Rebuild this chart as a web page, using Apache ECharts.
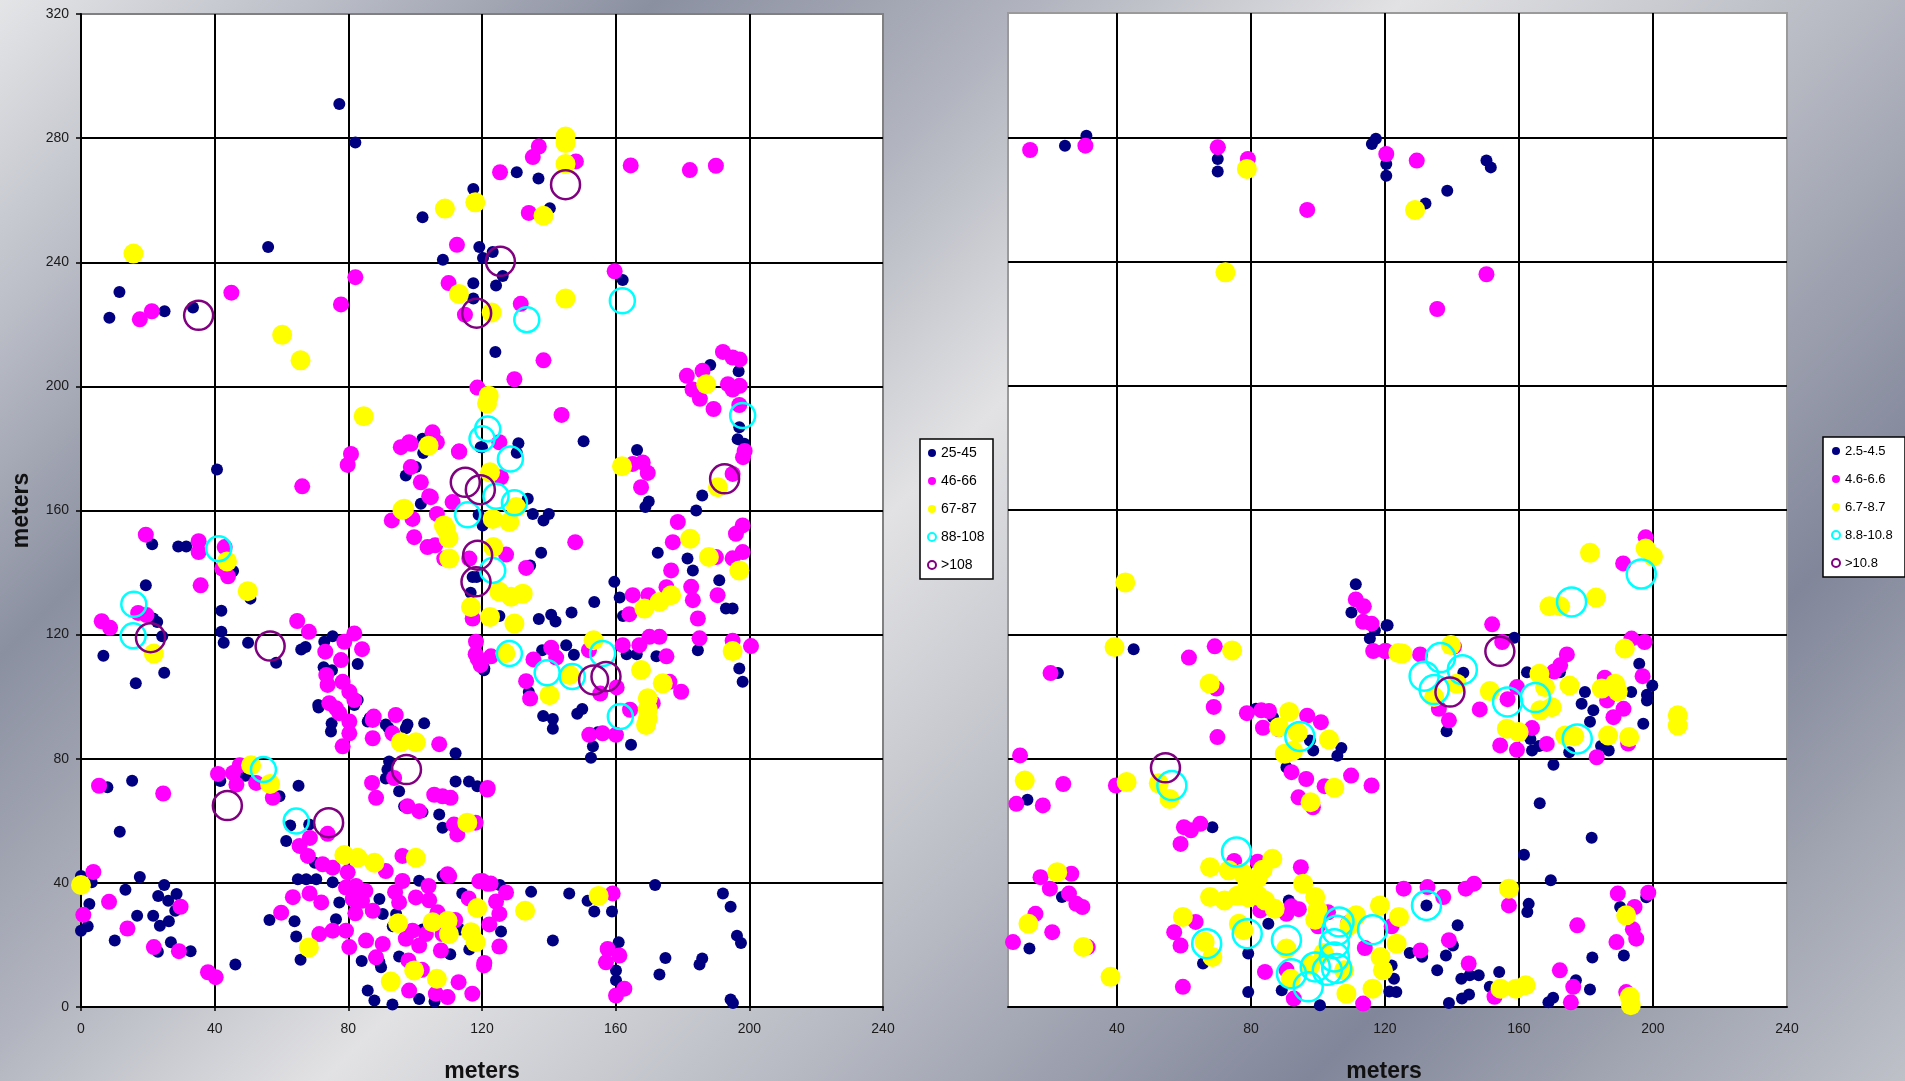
<!DOCTYPE html>
<html>
<head>
<meta charset="utf-8">
<script src="https://cdn.jsdelivr.net/npm/echarts@6/dist/echarts.min.js"></script>
<style>
  html, body { margin: 0; padding: 0; }
  #chart {
    width: 1905px; height: 1081px;
    background: linear-gradient(135deg, #e4e5e7 0%, #babdc6 11%, #8b90a1 22%, #b2b5bf 35%, #e2e2e4 47%, #b5b8c1 63%, #81869a 80%, #a2a6b2 90%, #bec1c8 100%);
  }
</style>
</head>
<body>
<div id="chart"></div>
<script>
// Axis ticks (metres)
const xTicks = [0, 40, 80, 120, 160, 200, 240];
const xTicksRight = [40, 80, 120, 160, 200, 240];
const yTicks = [0, 40, 80, 120, 160, 200, 240, 280, 320];

// Legend classes
const leftClasses = ['25-45', '46-66', '67-87', '88-108', '>108'];
const rightClasses = ['2.5-4.5', '4.6-6.6', '6.7-8.7', '8.8-10.8', '>10.8'];

// ---------- Left map: stems positioned in metres [x, y] ----------
const leftClass1 = [
  [77.3,291],[82.1,278.6],[117.4,263.6],[102.2,254.5],[119.2,244.9],[123.2,243.3],[120.3,241.4],[108.3,240.8],
  [117.4,233.2],[124.2,232.5],[126.2,235.6],[117.4,228.3],[124,211.1],[56,244.9],[11.5,230.4],[8.5,222.1],
  [25,224.2],[33.5,225.4],[130.4,269],[136.9,267],[140.3,257.4],[162.1,234.3],[188.3,206.9],[196.8,204.9],
  [150.4,182.3],[120,180.4],[130.9,181.7],[130.4,178.6],[133.7,163.8],[119,158.6],[120.2,155.2],[135.2,158.9],
  [138.4,156.8],[140,158.9],[117.2,138.6],[137.7,146.4],[134.4,142.3],[125.2,126],[137,125],[140.7,126.4],
  [142,124.2],[146.8,127.1],[153.6,130.5],[159.6,137],[166.4,179.5],[169.9,162.9],[168.9,161.1],[185.9,164.8],
  [184.1,160],[197,186.8],[196.5,183],[198.5,181.5],[172.6,146.4],[181.5,144.5],[183.1,140.7],[191,137.5],
  [195,128.4],[193,128.4],[161.2,132],[162.2,126],[184.6,115],[197,109.1],[198,104.8],[120.7,109.1],
  [134,101.5],[138,115],[145.2,116.6],[147.5,113.5],[163.3,113.7],[166.3,113.7],[172.2,113],[150,96],[148.5,94.5],
  [40.7,173.2],[102.2,183.1],[102.4,178.5],[97.2,171.3],[100.2,174],[101.7,162.2],[119.6,180.4],[118.4,138.6],
  [116.6,133.5],[120.6,108.5],[21.3,149.1],[29.1,148.4],[31.5,148.4],[45.5,140.5],[50.7,131.6],[19.4,135.9],
  [21.6,125.2],[22.8,124.1],[24.3,119.5],[6.7,113.2],[16.4,104.3],[24.9,107.7],[42,127.7],[42,120.9],
  [42.7,117.4],[50,117.4],[58.4,110.9],[65.9,115.2],[67.2,116],[72.8,117.7],[75.3,119.5],[82.8,110.5],
  [72.6,109.5],[75.1,108.5],[82.8,98.9],[71,97.3],[86.4,93.1],[91.2,91],[97.7,91],[102.7,91.4],
  [71.1,96.5],[81.8,97.3],[75,91.4],[74.8,88.8],[85.8,92],[92,90],[97.2,89.8],[112.1,81.8],[92.2,79.1],
  [91.7,76.5],[91.2,73.6],[95.2,69.5],[96.7,64.7],[102.2,62.8],[107.2,62],[108.2,57.8],[112.1,72.7],
  [116.1,72.7],[118.6,71.1],[59.4,67.9],[49.2,74.5],[41.7,72.8],[65.1,71.3],[62.6,58.5],[61.4,53.5],
  [68.3,58.8],[70,46.5],[64.9,41.2],[67.4,41.2],[70.4,41.2],[75.3,40.2],[77.3,33.7],[76.3,28.3],[89.3,34.8],
  [90.3,30],[94.3,30],[101.2,40.7],[102.2,25],[56.4,28],[63.9,27.6],[64.4,22.7],[65.7,15.2],[93.3,26],
  [89.3,14.5],[87.8,16],[95.2,16.3],[89.8,12.8],[85.8,5.3],[87.8,2.1],[93.2,0.8],[101.2,2.6],[114.1,36.6],
  [108.2,42.2],[116.2,18.5],[0,42.2],[3.2,40.2],[0,24.6],[2,26],[2.5,33.2],[7.9,70.8],[15.3,72.9],
  [11.6,56.5],[17.6,41.9],[13.3,37.8],[24.9,39.3],[23.1,35.8],[26.1,34.2],[28.6,36.4],[28.2,31],[16.8,29.4],
  [21.6,29.4],[23.6,26.2],[26.3,27.6],[10.1,21.4],[23,17.8],[26.9,20.9],[32.8,18],[46.2,13.7],[84,14.8],
  [82,31],[80,43.5],[152.6,80.3],[153.2,84],[154.6,88.5],[164.6,84.5],[141.2,89.7],[138.3,93.8],[141.2,92.8],
  [125.3,39.3],[134.7,37.1],[146.1,36.6],[125.7,24.3],[151.6,34.2],[153.6,30.8],[158.9,30.8],[171.8,39.3],
  [192.1,36.6],[194.4,32.3],[196.3,23],[197.5,20.6],[141.2,21.4],[160.9,20.9],[160.1,11.8],[160.1,8.6],
  [174.9,15.8],[173.1,10.5],[185.9,15.6],[185.1,13.7],[194.4,2.4],[195.1,1.3],[105.8,1.8],[110.5,17],
  [113.5,25],[118,20]
];
const leftClass2 = [
  [112.5,245.6],[110,233.3],[114.9,223.1],[118.6,199.6],[82.1,235.2],[77.8,226.4],[45,230.2],[17.6,221.6],
  [21.2,224.2],[137,277.3],[135.2,273.9],[148.1,272.5],[125.4,269],[134,255.9],[164.5,271.2],[182.2,269.7],
  [190,271.1],[131.6,226.6],[159.7,237.1],[138.4,208.4],[129.7,202.3],[192.1,211.1],[195,209.3],[197.1,208.7],
  [181.3,203.4],[193.6,200.7],[197.1,200.2],[183,199],[186,205],
  [143.8,190.8],[113.2,179],[125.2,182],[105.2,185.2],[98.2,182],[106.5,182],[125.7,170.7],[111.2,162.7],
  [104.2,164.6],[106.5,158.9],[99.2,157.3],[99.7,151.4],[106,148.8],[116.2,144.5],[127.2,145.8],[147.9,149.8],
  [133.2,141.5],[117.2,125.2],[165.1,175],[168.1,175.5],[169.6,172.1],[167.6,167.5],[195,171.8],[198.1,177.2],
  [198.6,179.2],[197,194],[195,199],[189.3,192.7],[185.2,196],[178.6,156.3],[177.1,149.8],[190,145],
  [176.6,140.7],[198,155.2],[196,152.5],[198,146.6],[195,144.6],[190.5,132.7],[182.6,135.4],[183.1,131.1],
  [184.6,125.2],[165.1,132.7],[169.8,132.7],[175.2,135.3],[164.1,126.6],[185.1,118.8],[200.5,116.3],[195,118],
  [118.2,117.7],[118.7,112.3],[122.7,113],[140.7,115.8],[142.2,112.6],[134.4,99.4],[133.2,105],[162.1,116.6],
  [167.1,116.6],[170.1,119.3],[173.1,119.3],[175.2,113],[179.6,101.6],[176.1,104.8],[155.4,101],[160.3,103],
  [171.1,97.9],[164.3,95.8],[135.4,112],[152,115],
  [66.2,167.8],[80.8,178.2],[79.8,174.7],[95.7,180.4],[98.7,181.5],[98.7,174],[101.7,169.1],
  [104.7,164.3],[113.1,179],[93,156.8],[103.7,148.2],[108.7,144.5],[19.4,152.2],[35.2,150.1],[35.2,146.6],
  [43,148.2],[42.3,141.3],[44,138.8],[35.8,135.9],[17.1,127],[19.6,126.3],[6.2,124.3],[8.7,122.2],[64.7,124.4],
  [68.2,120.9],[73.1,114.5],[77.8,111.8],[78.8,117.7],[81.8,120.4],[84.1,115.3],[73.4,107],[73.8,103.8],
  [78.3,104.8],[80.3,101.6],[81.8,98.9],[74.3,97.9],[76.3,96.3],[87.6,93.6],[94.2,94.1],[118.1,113.7],[119.6,110.2],
  [77.3,94.7],[80.3,92],[80.3,88.2],[78.3,84],[87.3,92.5],[93.2,88.2],[87.3,86.6],[107.2,84.7],[93.7,73.8],
  [87.1,72.2],[88.3,67.4],[97.7,64.7],[101.2,63.1],[105.7,68.4],[108.2,67.9],[110.6,67.4],[111.6,58.8],
  [112.6,55.6],[118.1,59.4],[121.6,70.1],[57.4,67.4],[41,75.1],[45.5,75.4],[46.5,71.7],[47.5,77.9],[52.4,72.2],
  [73.8,55.8],[65.4,51.9],[67.9,48.7],[68.5,54.5],[72.3,46],[75.3,44.9],[96.2,48.7],[96.2,40.6],[91.2,43.8],
  [68.4,36.6],[71.9,33.7],[63.4,35.4],[59.9,30.4],[79.3,38.5],[82.3,39],[85.1,37.4],[81.3,34.8],[84.1,34.2],
  [87.3,31],[82.1,30.2],[79.8,43.4],[95.2,33.7],[100.2,35.3],[104.2,34.4],[71.3,23.5],[75.3,24.6],[79.3,24.6],
  [80.3,19.3],[85.3,21.4],[90.3,20.3],[88.3,16],[97.2,22],[99.2,24.6],[101.2,19.8],[103.2,23.5],[107.7,18.2],
  [106.7,30.5],[108.2,23.5],[98.2,5.3],[106.2,4.3],[109.7,3.2],[117.1,4.3],[120.1,40.6],[122.6,39.8],
  [109.7,42.8],[120.6,13.4],[3.7,43.5],[0.7,29.7],[5.4,71.3],[24.6,68.8],[8.4,33.9],[29.8,32.3],[13.9,25.3],
  [21.8,19.3],[29.3,18],[38,11.2],[40.3,9.6],[98,15],[102,12],[113,8],[112,28],[116,35],[104,39],[94,37],
  [152.1,87.7],[156.1,88.2],[160.1,87.7],[121.7,70.6],[110.2,42.2],[119.2,40.5],[121.7,39.7],[127.2,36.9],
  [124.2,34],[125.2,30],[122.2,26.6],[125.2,19.5],[120.7,14.2],[159.1,36.6],[157.6,18.7],[161.1,16.6],
  [157.1,14.4],[162.6,5.9],[160.1,3.7]
];
const leftClass3 = [
  [108.9,257.3],[118,259.3],[113.1,229.8],[122.9,223.8],[122,197],[15.7,242.8],[60.2,216.6],[65.7,208.4],
  [145,280.5],[145,278.4],[145,271.7],[138.4,255],[145,228.3],[187.1,200.7],
  [121.5,194.5],[104,180.9],[122.4,172.3],[130.2,161.1],[96.7,160.6],[109.2,154.1],[110,151.1],[110.2,144.5],
  [123.2,157.3],[128.2,156.3],[123.4,148.2],[125.2,133.8],[128.7,132.2],[132.2,133.2],[116.7,128.9],[122.4,125.7],
  [129.7,123.6],[161.9,174.3],[190.6,167.5],[182.3,150.9],[187.9,145],[197,140.7],[168.6,128.4],[173.1,130.5],
  [176.6,132.7],[195,114.7],[127,114],[140.2,100.5],[146.2,107],[153.4,118.2],[167.6,108.6],[174.1,104.3],
  [169.6,99.5],[169.6,93],
  [84.6,190.4],[96.2,160.2],[108.6,155.2],[43.7,143.6],[49.9,134],[21.8,113.9],
  [95.7,85.3],[100.2,85.3],[115.6,59.4],[50.9,77.9],[56.6,71.9],[78.8,49],[82.8,48.1],[87.8,46.5],[100.2,48.1],
  [68.2,19.2],[94.9,27],[105.2,27.3],[109.7,27.8],[110.1,23.5],[99.7,11.8],[106.5,9.1],[92.7,8.2],[118.6,31.9],
  [116.7,24.1],[118.1,20.9],[0,39.3],[132.9,31],[154.9,35.8],[169.1,90.9],[169.6,96]
];
const leftClass4 = [
  [133.4,221.5],[162,227.6],[121.7,186.3],[120,183.1],[128.5,176.6],[124.2,164.6],[129.7,162.5],[115.7,158.6],
  [123.2,140.7],[198,190.6],[128.2,113.9],[139.5,107.7],[147,106.5],[156.1,113.9],[161.4,93.6],[41.2,147.7],
  [15.8,129.8],[15.6,119.6],[54.6,76.5],[64.4,59.9]
];
const leftClass5 = [
  [35.2,222.9],[118.4,223.6],[125.5,240.3],[145,265],[115,169.1],[119.5,166.7],[118.7,145.6],[118.2,137],
  [192.6,170.2],[20.8,119],[56.6,116.3],[153.4,105.4],[157.1,106.5],[43.8,64.9],[74.1,59.4],[97.4,76.5]
];

// ---------- Right map: [x, y] in metres ----------
const rightClass1 = [
  [24.5,277.3],[30.9,280.5],[70.1,273],[70.1,269],[70.6,276.8],[117.3,279.5],[116.1,277.8],[120.4,271.4],
  [120.4,267.6],[150.3,272.5],[151.6,270.3],[138.6,262.8],[132.1,258.7],
  [45,115.2],[22.4,107.5],[111.3,136.1],[110,127],[120.5,122.8],[117,121.3],[115.5,118.6],[81.5,96],[86.6,93.3],
  [97.6,85.8],[98.6,82.6],[107,83.4],[105.8,80.9],[90.6,77.2],
  [120.8,122.9],[158.6,118.9],[143.4,107.6],[138.4,88.8],[163.9,82.6],[163.4,86.3],[170.3,78],[186.8,82.6],
  [195.9,110.5],[199.8,103.5],[198.2,100.5],[198.2,98.7],[197.1,91.2],[193.5,101.4],[179.7,101.4],[178.7,97.6],
  [182.2,95.5],[181.2,91.8],[162.4,107.8],[172.2,107.8],[166,84],[175,82],[184.5,84],
  [13.3,66.7],[68.5,57.9],[166.2,65.6],[181.7,54.5],[161.5,49],[169.5,40.8],[23.6,35.4],[13.9,18.8],[65.7,14],
  [79.2,17.2],[79.2,4.8],[89.2,5.4],[100.6,0.6],[91.3,34.3],[85.2,26.8],[122,13.4],[122.7,9.1],[123.4,4.8],
  [121.3,5],[127.4,17.4],[131.1,16.2],[135.6,11.8],[138.2,16.6],[140.3,19.8],[141.7,26.3],[139.1,1.3],
  [142.8,9.1],[145.3,10.2],[148,10.2],[143,2.7],[145.1,4],[154.1,11.3],[151.3,6.5],[162.9,33.2],[162.5,30.6],
  [177,8.6],[181.2,5.6],[168.8,1.5],[170.2,3],[181.9,15.9],[198,35.3],[190.2,32.2],[191.3,16.6],[102,71],
  [132.4,32.7]
];
const rightClass2 = [
  [14.1,275.9],[30.6,277.3],[70.1,276.8],[79.1,273],[96.8,256.6],[120.4,274.6],[129.5,272.5],[150.3,235.9],
  [135.6,224.7],
  [20.2,107.5],[61.5,112.5],[69.2,116.1],[69.7,102.5],[68.9,96.6],[70,86.9],[11.1,81],[111.3,131.2],[113.7,129],
  [113.5,124],[116,123.4],[116.5,114.6],[120,114.6],[78.8,94.6],[83.1,95.5],[85.4,95.3],[83.6,89.9],[96.8,93.8],
  [100.9,91.7],[92.1,75.6],[88.3,89.5],
  [130.5,113.5],[140.6,116],[152,123.2],[155,117.5],[136.1,96],[139.1,92.3],[148.3,95.8],[156.6,99.1],
  [159.4,103],[154.4,84.2],[159.4,82.8],[163.9,89.8],[168.3,84.7],[174.3,113.5],[172.3,110],[170.5,108],
  [183.2,80.4],[192.6,84.8],[186.3,98.7],[191.2,96],[188.2,93.3],[185.6,106],[196.9,106.5],[193.6,118.6],
  [197.5,117.5],[197.8,151.2],[191.1,142.8],[120.3,114.6],
  [24,71.8],[39.7,71.3],[10,65.4],[17.9,64.9],[96.5,73.4],[102,71.1],[109.9,74.5],[116,71.3],[94.2,67.5],
  [98.5,64.3],[60,57.9],[62.1,56.9],[64.9,59],[59,52.5],[75,47],[82,46.8],[94.9,45],[26.4,42.9],[17.2,41.8],
  [20,38.1],[25.7,36.5],[27.9,33.2],[29.7,32.2],[15.7,30],[20.7,24.1],[9,20.9],[31.3,19.3],[59.7,6.5],
  [63.5,27.4],[57.1,24.1],[59,19.8],[84.2,11.3],[90.6,12],[92.8,2.7],[90.6,30],[92.1,32.4],[94.3,31.5],
  [82.8,31.1],[113.5,1.1],[125.6,38.1],[132.7,38.6],[137.4,35.4],[130.6,18.2],[139.1,21.5],[144.1,38.1],
  [146.6,39.7],[145,14],[152.7,3.3],[157,32.7],[172.2,11.8],[176.2,6.5],[175.5,1.5],[177.4,26.3],[189.5,36.5],
  [198.6,36.8],[194.5,32.2],[189.1,20.9],[195,22],[194,25],[192,4.8],[100,26],[103,30.5],[109,27],[122,26],[114,19]
];
const rightClass3 = [
  [78.8,269.8],[129,256.6],[72.4,236.5],
  [42.5,136.7],[39.3,115.9],[74.4,114.8],[67.7,104.1],[91.4,95],[88.4,90.1],[94,88.3],[90.1,81.5],[92.6,82.5],
  [103.3,86.1],[124,114],
  [125.2,113.8],[139.7,116.5],[141.4,104.1],[134.7,99.8],[181.2,146.2],[197.8,147.6],[200,145],[169.1,129],
  [172.3,129],[183,131.8],[151.3,101.7],[156.4,89.6],[159.9,88.5],[166.1,107.3],[167.8,103],[166.3,95.5],
  [169.8,96.5],[175.1,103.5],[173.8,87.4],[176.5,87.2],[186.6,87.4],[192.9,86.9],[184.7,102.5],[188.7,104.1],
  [189.5,101.6],[191.6,115.4],[207.4,93.9],[207.4,90.6],
  [12.5,72.9],[42.9,72.4],[52.5,72],[55.7,67],[104.9,70.6],[97.8,65.9],[86.4,47.7],[22.2,43.4],[13.6,26.8],
  [30,19.3],[38.1,9.7],[67.8,45],[67.8,35.4],[72.1,34.3],[73.4,44],[77.6,43],[79,40],[82,41.5],[83.5,44.2],
  [76,35.8],[79.3,35.3],[82.2,35.8],[84.2,34.3],[87.1,31.6],[59.7,29],[66.2,21],[68.5,16.1],[76.4,26.8],
  [77.8,24.7],[90.6,18.8],[91.9,9.1],[95.6,39.7],[99.2,35.4],[99.9,31.3],[99.2,28.1],[109.4,26.3],[111.4,29.5],
  [118.5,32.7],[124.2,29],[123.5,20.4],[118.7,16.1],[119.4,11.8],[116.3,5.9],[108.5,4.3],[107.8,11.8],
  [101.7,17.4],[157,38.1],[154.5,5.9],[159.1,5.9],[162,7],[192,29.5],[193.1,3.3],[193.4,0.6],[97.8,13.5]
];
const rightClass4 = [
  [94.6,87.1],[136.6,112.5],[131.7,106.5],[143.1,108.6],[134.7,102.2],[156.6,98.2],[164.9,99.6],[177.4,86.3],
  [175.7,130.4],[196.5,139.4],
  [56.4,71.3],[75.7,49.9],[66.8,20.4],[78.9,23.6],[90.6,21.5],[92.1,10.7],[97.1,6.5],[99.2,12.9],[102.8,11.8],
  [104.9,16.1],[105.6,12.4],[104.9,20.4],[105.6,24.7],[106.3,27.4],[116.3,24.9],[132.4,32.7]
];
const rightClass5 = [
  [54.5,77],[139.4,101.4],[154.3,114.5]
];

const FONT = '"Liberation Sans", Arial, sans-serif';
const colors = ['#000080', '#ff00ff', '#ffff00', '#00ffff', '#800080'];

function dots(name, gridIdx, data, size, color) {
  return {
    type: 'scatter', name, xAxisIndex: gridIdx, yAxisIndex: gridIdx, data,
    symbol: 'circle', symbolSize: size,
    itemStyle: { color, opacity: 1 },
    emphasis: { disabled: true }, animation: false
  };
}
function rings(name, gridIdx, data, size, color) {
  return {
    type: 'scatter', name, xAxisIndex: gridIdx, yAxisIndex: gridIdx, data,
    symbol: 'circle', symbolSize: size,
    itemStyle: { color: 'rgba(0,0,0,0)', borderColor: color, borderWidth: 2.5, opacity: 1 },
    emphasis: { disabled: true }, animation: false
  };
}

const axisLabelStyle = { fontFamily: FONT, fontSize: 14, color: '#1a1a1a' };
const nameStyle = { fontFamily: FONT, fontSize: 23, fontWeight: 'bold', color: '#111' };
const gridLine = { show: true, lineStyle: { color: '#000', width: 2 }, showMaxLine: false };

const chart = echarts.init(document.getElementById('chart'), null, { renderer: 'canvas' });
chart.setOption({
  backgroundColor: 'transparent',
  animation: false,
  grid: [
    { left: 81, top: 14, width: 802, height: 993, outerBoundsMode: 'none', containLabel: false,
      show: true, backgroundColor: '#fff', borderColor: '#808080', borderWidth: 2 },
    { left: 1008, top: 13, width: 779, height: 994, outerBoundsMode: 'none', containLabel: false,
      show: true, backgroundColor: '#fff', borderColor: '#9a9a9a', borderWidth: 2 }
  ],
  xAxis: [
    {
      gridIndex: 0, type: 'value', min: xTicks[0], max: xTicks[xTicks.length - 1], interval: 40,
      name: 'meters', nameLocation: 'middle', nameGap: 53, nameTextStyle: nameStyle,
      axisLine: { show: true, onZero: false, lineStyle: { color: '#000', width: 2 } },
      axisTick: { show: true, length: 4, lineStyle: { color: '#000', width: 1.5 } },
      axisLabel: Object.assign({ margin: 15 }, axisLabelStyle),
      splitLine: gridLine
    },
    {
      gridIndex: 1, type: 'value', min: 7.5, max: 240,
      name: 'meters', nameLocation: 'middle', nameGap: 53,
      nameTextStyle: Object.assign({ padding: [0, 27, 0, 0] }, nameStyle),
      axisLine: { show: true, onZero: false, lineStyle: { color: '#000', width: 2 } },
      axisTick: { show: false, customValues: xTicksRight },
      axisLabel: Object.assign({ margin: 15, customValues: xTicksRight }, axisLabelStyle),
      splitLine: gridLine
    }
  ],
  yAxis: [
    {
      gridIndex: 0, type: 'value', min: yTicks[0], max: yTicks[yTicks.length - 1], interval: 40,
      name: 'meters', nameLocation: 'middle', nameGap: 48, nameTextStyle: nameStyle,
      axisLine: { show: true, onZero: false, lineStyle: { color: '#000', width: 2 } },
      axisTick: { show: true, length: 5, lineStyle: { color: '#000', width: 1.5 } },
      axisLabel: Object.assign({ margin: 12 }, axisLabelStyle),
      splitLine: gridLine
    },
    {
      gridIndex: 1, type: 'value', min: yTicks[0], max: yTicks[yTicks.length - 1], interval: 40,
      axisLine: { show: false }, axisTick: { show: false }, axisLabel: { show: false },
      splitLine: gridLine
    }
  ],
  legend: [
    {
      data: leftClasses, orient: 'vertical', left: 920, top: 439,
      padding: [7, 6, 7, 7], itemWidth: 8, itemHeight: 8, itemGap: 14,
      backgroundColor: '#fff', borderColor: '#000', borderWidth: 1.5, borderRadius: 0,
      textStyle: { fontFamily: FONT, fontSize: 14, lineHeight: 14, color: '#000', width: 46 },
      selectedMode: false
    },
    {
      data: rightClasses, orient: 'vertical', left: 1823, top: 437,
      padding: [7, 4, 7, 8], itemWidth: 8, itemHeight: 8, itemGap: 14,
      backgroundColor: '#fff', borderColor: '#000', borderWidth: 1.5, borderRadius: 0,
      textStyle: { fontFamily: FONT, fontSize: 13, lineHeight: 14, color: '#000', width: 56 },
      selectedMode: false
    }
  ],
  series: [
    dots(leftClasses[0], 0, leftClass1, 12, colors[0]),
    dots(leftClasses[1], 0, leftClass2, 16, colors[1]),
    dots(leftClasses[2], 0, leftClass3, 20, colors[2]),
    rings(leftClasses[3], 0, leftClass4, 25, colors[3]),
    rings(leftClasses[4], 0, leftClass5, 29, colors[4]),
    dots(rightClasses[0], 1, rightClass1, 12, colors[0]),
    dots(rightClasses[1], 1, rightClass2, 16, colors[1]),
    dots(rightClasses[2], 1, rightClass3, 20, colors[2]),
    rings(rightClasses[3], 1, rightClass4, 29, colors[3]),
    rings(rightClasses[4], 1, rightClass5, 29, colors[4])
  ]
});
</script>
</body>
</html>
